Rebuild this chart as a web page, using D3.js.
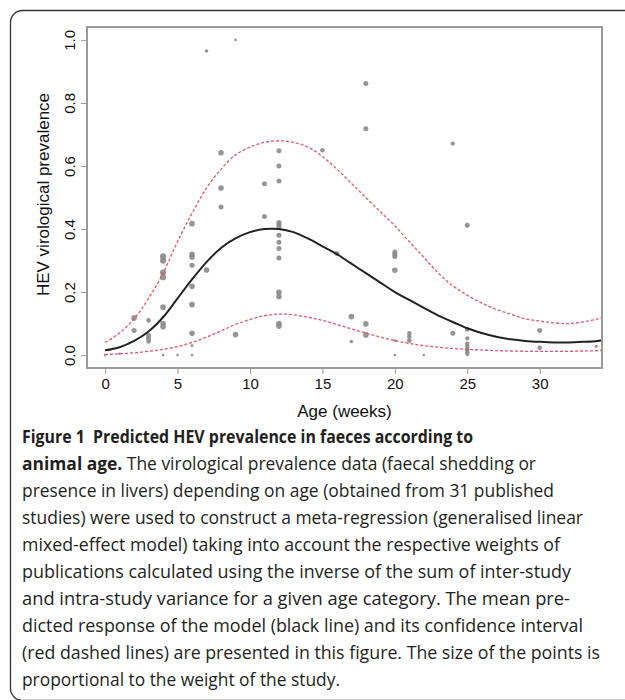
<!DOCTYPE html>
<html>
<head>
<meta charset="utf-8">
<script src="https://cdn.jsdelivr.net/npm/d3@7"></script>
<style>
  body { margin: 0; background: #fff; }
  svg { display: block; }
  .tick-label { font-family: "Liberation Sans", Arial, sans-serif; font-size: 15px; fill: #111; }
  .axis-title { font-family: "Liberation Sans", Arial, sans-serif; font-size: 17px; fill: #111; }
  .caption { font-family: "Open Sans", "Noto Sans", sans-serif; font-size: 17.5px; fill: #231f20; }
</style>
</head>
<body>
<div id="chart"></div>
<script>
// Observed prevalence per study (age in weeks, prevalence, weight of the study)
const ages = [0, 1, 2, 2, 3, 3, 3, 3, 4, 4, 4, 4, 4, 4, 4, 4, 5,
  6, 6, 6, 6, 6, 6, 6, 6, 6, 7, 7, 8, 8, 8, 9, 9, 11, 11,
  12, 12, 12, 12, 12, 12, 12, 12, 12, 12, 12, 12, 12, 12,
  15, 16, 17, 17, 18, 18, 18, 18, 20, 20, 20, 20, 20, 20, 21, 21, 21, 22,
  24, 24, 25, 25, 25, 25, 25, 25, 25, 25, 30, 30, 33.9];
const prevalence = [0, 0.004, 0.118, 0.078, 0.11, 0.062, 0.053, 0.043, 0.313, 0.30, 0.262, 0.247, 0.152, 0.10, 0.09, 0, 0,
  0.417, 0.32, 0.311, 0.285, 0.218, 0.16, 0.069, 0.03, 0, 0.965, 0.27, 0.642, 0.53, 0.47, 1.0, 0.065, 0.544, 0.44,
  0.648, 0.6, 0.552, 0.421, 0.414, 0.406, 0.38, 0.358, 0.338, 0.308, 0.199, 0.186, 0.1, 0.092,
  0.65, 0.322, 0.122, 0.043, 0.862, 0.718, 0.099, 0.064, 0.327, 0.32, 0.313, 0.269, 0.046, 0, 0.069, 0.058, 0.046, 0,
  0.671, 0.069, 0.412, 0.081, 0.053, 0.036, 0.027, 0.017, 0.009, 0.002, 0.078, 0.023, 0.028];
const weights = [1, 1, 2.5, 2.2, 2, 2.2, 2.2, 2, 2.8, 2.8, 2.8, 2.8, 2.5, 2.5, 2.5, 1, 1,
  2.5, 2.5, 2.5, 2.2, 2.5, 2.5, 2.5, 1.2, 1, 1.5, 2.5, 2.5, 2.5, 2.2, 1, 2.5, 2.2, 2.2,
  2.2, 2.2, 2.2, 2.2, 2.2, 2.2, 2.2, 2.2, 2.2, 2.2, 2.5, 2.5, 2.5, 2.5,
  2, 2.2, 2.5, 1.5, 2.2, 2.2, 2.5, 2.5, 2.2, 2.2, 2.2, 2.5, 1.2, 1, 2, 2, 2, 1,
  1.8, 2.2, 2.2, 2, 1.8, 2, 2, 2, 2, 1.5, 2.2, 2, 1.3];

// Model prediction (mean and confidence bounds) read at each week
const curveAges = [0, 1, 2, 3, 4, 5, 6, 7, 8, 9, 10, 11, 12, 13, 14, 15, 16, 17,
  18, 19, 20, 21, 22, 23, 24, 25, 26, 27, 28, 29, 30, 31, 32, 33, 34, 34.3];
const meanPred = [0.015, 0.025, 0.045, 0.075, 0.12, 0.18, 0.24, 0.295, 0.34, 0.37, 0.39, 0.4, 0.4, 0.39, 0.37, 0.345, 0.32, 0.29,
  0.26, 0.23, 0.2, 0.175, 0.15, 0.125, 0.105, 0.085, 0.07, 0.058, 0.05, 0.045, 0.042, 0.04, 0.04, 0.042, 0.045, 0.047];
const upperPred = [0.04, 0.07, 0.115, 0.18, 0.26, 0.36, 0.45, 0.53, 0.59, 0.635, 0.66, 0.675, 0.68, 0.675, 0.66, 0.63, 0.59, 0.545,
  0.5, 0.455, 0.41, 0.36, 0.31, 0.26, 0.22, 0.19, 0.165, 0.145, 0.13, 0.115, 0.108, 0.102, 0.1, 0.105, 0.115, 0.12];
const lowerPred = [0.002, 0.004, 0.007, 0.012, 0.018, 0.027, 0.04, 0.057, 0.077, 0.097, 0.113, 0.125, 0.13, 0.128, 0.12, 0.11, 0.097, 0.083,
  0.07, 0.057, 0.046, 0.037, 0.03, 0.025, 0.021, 0.018, 0.016, 0.014, 0.013, 0.012, 0.012, 0.012, 0.012, 0.013, 0.014, 0.015];

const xTicks = [0, 5, 10, 15, 20, 25, 30];
const yTicks = [0, 0.2, 0.4, 0.6, 0.8, 1.0];

const captionLines = [
  { bold: "Figure 1\u00a0\u00a0Predicted HEV prevalence in faeces according to", text: "", len: 451 },
  { bold: "animal age.", text: " The virological prevalence data (faecal shedding or", len: 514 },
  { bold: "", text: "presence in livers) depending on age (obtained from 31 published", len: 532 },
  { bold: "", text: "studies) were used to construct a meta-regression (generalised linear", len: 561 },
  { bold: "", text: "mixed-effect model) taking into account the respective weights of", len: 538 },
  { bold: "", text: "publications calculated using the inverse of the sum of inter-study", len: 549 },
  { bold: "", text: "and intra-study variance for a given age category. The mean pre-", len: 548 },
  { bold: "", text: "dicted response of the model (black line) and its confidence interval", len: 561 },
  { bold: "", text: "(red dashed lines) are presented in this figure. The size of the points is", len: 578 },
  { bold: "", text: "proportional to the weight of the study.", len: 318 }
];

const WIDTH = 625;
const HEIGHT = 700;
const plot = { left: 87, right: 602, top: 27, bottom: 368 };

const svg = d3.select("#chart")
  .append("svg")
  .attr("width", WIDTH)
  .attr("height", HEIGHT);

// Figure frame (rounded, runs off the right edge)
svg.append("rect")
  .attr("x", 10.5).attr("y", 10.5)
  .attr("width", 640).attr("height", 690)
  .attr("rx", 12)
  .attr("fill", "none")
  .attr("stroke", "#333")
  .attr("stroke-width", 1.3);

const x = d3.scaleLinear().domain([-1.25, 34.3]).range([plot.left, plot.right]);
const y = d3.scaleLinear().domain([-0.041, 1.041]).range([plot.bottom, plot.top]);

// Points
svg.append("g")
  .selectAll("circle")
  .data(ages.map((a, i) => ({ age: a, p: prevalence[i], w: weights[i] })))
  .enter()
  .append("circle")
  .attr("cx", (d) => x(d.age))
  .attr("cy", (d) => y(d.p))
  .attr("r", (d) => d.w + 0.3)
  .attr("fill", "#8a8a8a")
  .attr("fill-opacity", 0.9);

// Curves
const line = (vals) => d3.line()
  .x((d, i) => x(curveAges[i]))
  .y((d) => y(d))
  .curve(d3.curveCatmullRom)(vals);

svg.append("path").attr("d", line(upperPred))
  .attr("fill", "none").attr("stroke", "#e0566b").attr("stroke-width", 1.3)
  .attr("stroke-dasharray", "3,2");
svg.append("path").attr("d", line(lowerPred))
  .attr("fill", "none").attr("stroke", "#e0566b").attr("stroke-width", 1.3)
  .attr("stroke-dasharray", "3,2");
svg.append("path").attr("d", line(meanPred))
  .attr("fill", "none").attr("stroke", "#222").attr("stroke-width", 2);

// Box
svg.append("rect")
  .attr("x", plot.left).attr("y", plot.top)
  .attr("width", plot.right - plot.left).attr("height", plot.bottom - plot.top)
  .attr("fill", "none").attr("stroke", "#9a9a9a").attr("stroke-width", 2);

// X axis
const xAxis = svg.append("g").attr("transform", `translate(0,${plot.bottom})`)
  .call(d3.axisBottom(x).tickValues(xTicks).tickSize(6).tickSizeOuter(0).tickPadding(4));
xAxis.select(".domain").attr("stroke", "#9a9a9a").attr("d", `M${x(0)},0H${x(30)}`);
xAxis.selectAll(".tick line").attr("stroke", "#9a9a9a");
xAxis.selectAll(".tick text").attr("class", "tick-label").attr("font-size", null).attr("font-family", null).attr("fill", null);

// Y axis
const yAxis = svg.append("g").attr("transform", `translate(${plot.left},0)`)
  .call(d3.axisLeft(y).tickValues(yTicks).tickSize(6).tickSizeOuter(0).tickFormat(d3.format(".1f")));
yAxis.select(".domain").attr("stroke", "#9a9a9a").attr("d", `M0,${y(0)}V${y(1)}`);
yAxis.selectAll(".tick line").attr("stroke", "#9a9a9a");
yAxis.selectAll(".tick text")
  .attr("class", "tick-label").attr("font-size", null).attr("font-family", null).attr("fill", null)
  .attr("x", null).attr("dy", null)
  .attr("text-anchor", "middle")
  .attr("transform", "translate(-12,0) rotate(-90)");

// Axis titles
svg.append("text").attr("class", "axis-title")
  .attr("x", (plot.left + plot.right) / 2 + 0).attr("y", 417)
  .attr("text-anchor", "middle")
  .text("Age (weeks)");
svg.append("text").attr("class", "axis-title")
  .attr("transform", `translate(49,${(plot.top + plot.bottom) / 2 - 3}) rotate(-90)`)
  .attr("text-anchor", "middle")
  .text("HEV virological prevalence");

// Caption
const cap = svg.append("g");
captionLines.forEach((l, i) => {
  const t = cap.append("text").attr("class", "caption")
    .attr("x", 22).attr("y", 443 + i * 27)
    .attr("textLength", l.len).attr("lengthAdjust", "spacingAndGlyphs");
  if (l.bold) t.append("tspan").attr("font-weight", "bold").text(l.bold);
  if (l.text) t.append("tspan").text(l.text);
});
</script>
</body>
</html>
